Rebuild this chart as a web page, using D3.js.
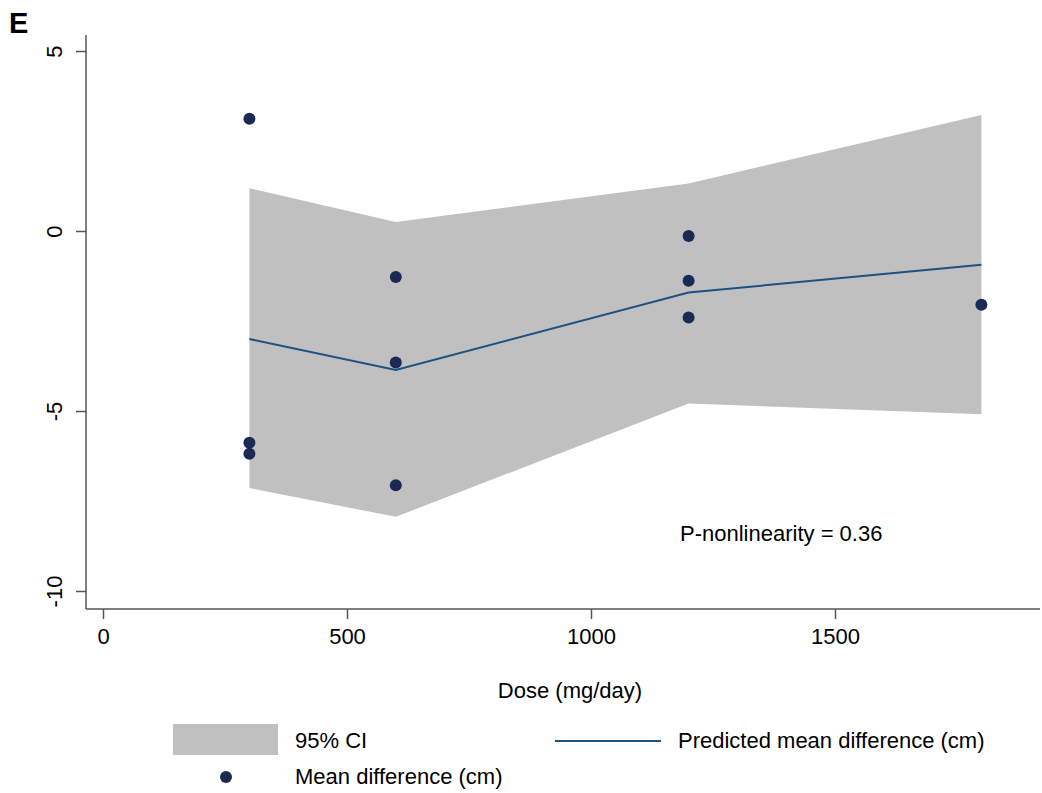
<!DOCTYPE html>
<html>
<head>
<meta charset="utf-8">
<script src="https://cdn.jsdelivr.net/npm/d3@7"></script>
<style>
  body { margin: 0; background: #fff; }
  svg text { font-family: "Liberation Sans", Arial, sans-serif; fill: #000; }
  .axis path, .axis line { stroke: #555; stroke-width: 1.5; }
  .axis text { font-size: 22px; }
</style>
</head>
<body>
<div id="chart"></div>
<script>
// doses of the observed points and their mean differences
var pointDose = [300, 300, 300, 600, 600, 600, 1200, 1200, 1200, 1800];
var pointDiff = [3.12, -5.88, -6.19, -1.28, -3.65, -7.06, -0.14, -1.38, -2.40, -2.05];

// fitted curve and CI band
var fitDose = [300, 600, 1200, 1800];
var fitMean = [-3.0, -3.86, -1.71, -0.94];
var ciLow = [-7.14, -7.94, -4.79, -5.09];
var ciHigh = [1.19, 0.25, 1.32, 3.22];

var xTicks = [0, 500, 1000, 1500];
var yTicks = [5, 0, -5, -10];

var width = 1042, height = 793;

var svg = d3.select("#chart").append("svg")
    .attr("width", width)
    .attr("height", height);

// scales (0 -> 103px, 1500 -> 835px; 5 -> 51px, -10 -> 591px)
var x = d3.scaleLinear().domain([0, 1500]).range([103, 835]);
var y = d3.scaleLinear().domain([-10, 5]).range([591, 51]);

var fit = fitDose.map(function(d, i) {
    return { dose: d, mean: fitMean[i], lo: ciLow[i], hi: ciHigh[i] };
});

// CI band
svg.append("path")
    .datum(fit)
    .attr("fill", "#c0c0c0")
    .attr("d", d3.area()
        .x(function(d) { return x(d.dose); })
        .y0(function(d) { return y(d.lo); })
        .y1(function(d) { return y(d.hi); }));

// predicted line
svg.append("path")
    .datum(fit)
    .attr("fill", "none")
    .attr("stroke", "#1b5282")
    .attr("stroke-width", 2)
    .attr("d", d3.line()
        .x(function(d) { return x(d.dose); })
        .y(function(d) { return y(d.mean); }));

// points
svg.selectAll(".pt")
    .data(pointDose)
    .enter().append("circle")
    .attr("class", "pt")
    .attr("cx", function(d) { return x(d); })
    .attr("cy", function(d, i) { return y(pointDiff[i]); })
    .attr("r", 6)
    .attr("fill", "#1b2a55");

var fmt = function(d) { return String(d); }; // plain hyphen minus like the original

// x axis
var gx = svg.append("g")
    .attr("class", "axis")
    .attr("transform", "translate(0,609)")
    .call(d3.axisBottom(x).tickValues(xTicks).tickSize(10).tickPadding(9).tickFormat(fmt));
gx.select(".domain").attr("d", "M86,0H1040");

// y axis
var gy = svg.append("g")
    .attr("class", "axis")
    .attr("transform", "translate(86,0)")
    .call(d3.axisLeft(y).tickValues(yTicks).tickSize(10).tickFormat(fmt));
gy.select(".domain").attr("d", "M0,35V609");
gy.selectAll(".tick text")
    .attr("x", 0)
    .attr("text-anchor", "middle")
    .attr("transform", "translate(-32,0) rotate(-90)")
    .attr("dy", "0.35em");

// axis title
svg.append("text")
    .attr("x", 570).attr("y", 698)
    .attr("text-anchor", "middle")
    .style("font-size", "22px")
    .text("Dose (mg/day)");

// annotation
svg.append("text")
    .attr("x", 680).attr("y", 541)
    .style("font-size", "22px")
    .text("P-nonlinearity = 0.36");

// panel letter
svg.append("text")
    .attr("x", 9).attr("y", 33)
    .style("font-size", "29px")
    .style("font-weight", "bold")
    .text("E");

// legend
var leg = svg.append("g").style("font-size", "22px");
leg.append("rect").attr("x", 173).attr("y", 724).attr("width", 105).attr("height", 31).attr("fill", "#c0c0c0");
leg.append("text").attr("x", 295).attr("y", 748).text("95% CI");
leg.append("line").attr("x1", 555).attr("x2", 661).attr("y1", 741).attr("y2", 741)
    .attr("stroke", "#1b5282").attr("stroke-width", 2);
leg.append("text").attr("x", 678).attr("y", 748).text("Predicted mean difference (cm)");
leg.append("circle").attr("cx", 226).attr("cy", 777).attr("r", 6).attr("fill", "#1b2a55");
leg.append("text").attr("x", 295).attr("y", 784).text("Mean difference (cm)");
</script>
</body>
</html>
